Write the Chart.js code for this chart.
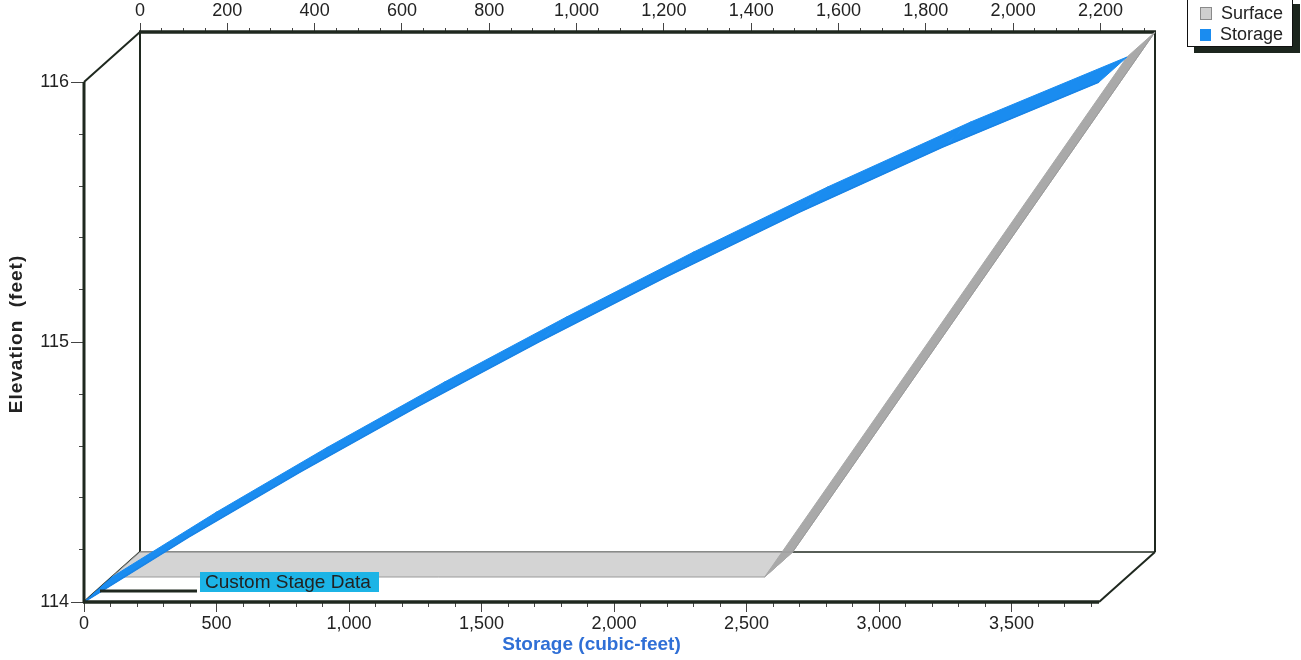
<!DOCTYPE html>
<html>
<head>
<meta charset="utf-8">
<title>Stage-Area-Storage</title>
<script src="https://cdn.jsdelivr.net/npm/chart.js@4.4.1/dist/chart.umd.min.js"></script>
<style>
  html, body { margin: 0; padding: 0; background: #fff; }
  #wrap { position: relative; width: 1301px; height: 660px; overflow: hidden; }
  #legend {
    position: absolute; left: 1187px; top: -2px; width: 104px; height: 47px;
    background: #fff; border: 1px solid #111; box-shadow: 7px 6px 0 #1c261e;
    font: 18px "Liberation Sans", Arial, sans-serif; color: #222;
  }
  #legend div { position: absolute; left: 12px; height: 20px; line-height: 20px; white-space: nowrap; }
  #legend span { display: inline-block; width: 11px; height: 12px; margin-right: 9px; vertical-align: -1px; }
</style>
</head>
<body>
<div id="wrap">
  <canvas id="chart" width="1301" height="660"></canvas>
  <div id="legend">
    <div style="top:4px"><span style="background:#cfcfcf;border:1px solid #8a8a8a;width:10px;height:11px"></span>Surface</div>
    <div style="top:25px"><span style="background:#1a8cf0"></span>Storage</div>
  </div>
</div>
<script>
// Stage-storage (front plane, bottom axis)
const elevation = [114.0, 114.25, 114.5, 114.75, 115.0, 115.25, 115.5, 115.75, 116.0];
const storage = [0, 395, 815, 1255, 1715, 2195, 2700, 3240, 3830];

// Stage-surface (back plane, top axis)
const surfaceElevation = [114.0, 114.0, 116.0];
const surfaceArea = [0, 1495, 2325];

// Tick labels
const storageTicks = [0, 500, 1000, 1500, 2000, 2500, 3000, 3500];
const surfaceTicks = [0, 200, 400, 600, 800, 1000, 1200, 1400, 1600, 1800, 2000, 2200];
const elevationTicks = [114, 115, 116];
const storageMinor = 100, surfaceMinor = 50, elevationMinor = 0.2;
const storageEnd = 3830, surfaceEnd = 2325;
const elevLo = 114, elevHi = 116;

// layout of the 3d box (pixels)
const AREA = { left: 84, top: 32, right: 1155, bottom: 602 };
const DEPTH = { x: 56, y: 50 };
const areaW = AREA.right - AREA.left, areaH = AREA.bottom - AREA.top;

const FONT = "'Liberation Sans', Arial, sans-serif";
const FRAME = '#1f281f';

function steps(from, to, step) {
  const out = [];
  for (let i = 0; from + i * step <= to + 1e-9; i++) out.push({ value: +(from + i * step).toFixed(6) });
  return out;
}
function has(list, v) {
  return list.some(t => Math.abs(t - v) < 1e-6);
}
function fmt(v) {
  return Math.round(v).toLocaleString('en-US');
}
function seg(ctx, pts, w) {
  ctx.lineWidth = w;
  ctx.beginPath();
  ctx.moveTo(pts[0][0], pts[0][1]);
  for (let i = 1; i < pts.length; i++) ctx.lineTo(pts[i][0], pts[i][1]);
  ctx.stroke();
}

const tickFont = { family: FONT, size: 18 };

// ribbons, box frame and labels
const box3d = {
  id: 'box3d',
  beforeDatasetsDraw(chart) {
    const { ctx, scales: { x, x2, y, yBack } } = chart;
    const fl = x.getPixelForValue(0), fr = x.getPixelForValue(storageEnd);
    const fb = y.getPixelForValue(elevLo), ft = y.getPixelForValue(elevHi);
    const bl = x2.getPixelForValue(0), br = x2.getPixelForValue(surfaceEnd);
    const bb = yBack.getPixelForValue(elevLo), bt = yBack.getPixelForValue(elevHi);
    ctx.save();
    ctx.strokeStyle = FRAME;
    seg(ctx, [[bl, bb], [br, bb]], 1.5);
    seg(ctx, [[bl, bt], [bl, bb]], 2);
    seg(ctx, [[br, bt], [br, bb]], 2);
    seg(ctx, [[fl, ft], [bl, bt]], 2);
    seg(ctx, [[fl, fb], [bl, bb]], 2);
    seg(ctx, [[fr, fb], [br, bb]], 2);
    seg(ctx, [[bl - 1, bt], [br + 1, bt]], 3.5);
    ctx.restore();
  },
  beforeDatasetDraw(chart, args) {
    const { ctx, scales: { x, x2, y, yBack } } = chart;
    const dx = x2.getPixelForValue(0) - x.getPixelForValue(0);
    const dy = yBack.getPixelForValue(elevLo) - y.getPixelForValue(elevLo);
    const back = args.meta.xAxisID === 'x2';
    const ox = back ? -dx / 2 : dx / 2, oy = back ? -dy / 2 : dy / 2;
    const pts = args.meta.data;
    const raw = chart.data.datasets[args.index].data;
    ctx.save();
    ctx.lineJoin = 'round';
    for (let i = 0; i < pts.length - 1; i++) {
      const a = pts[i], b = pts[i + 1];
      const flat = raw[i].y === raw[i + 1].y;
      let fill = '#1a8cf0', edge = '#1a8cf0';
      if (back) {
        fill = flat ? '#d4d4d4' : '#a9a9a9';
        edge = flat ? '#9a9a9a' : '#a9a9a9';
      }
      ctx.fillStyle = fill;
      ctx.strokeStyle = edge;
      ctx.lineWidth = 1;
      ctx.beginPath();
      ctx.moveTo(a.x, a.y);
      ctx.lineTo(b.x, b.y);
      ctx.lineTo(b.x + ox, b.y + oy);
      ctx.lineTo(a.x + ox, a.y + oy);
      ctx.closePath();
      ctx.fill();
      ctx.stroke();
    }
    ctx.restore();
  },
  afterDatasetsDraw(chart) {
    const { ctx, scales: { x, y } } = chart;
    const fl = x.getPixelForValue(0), fr = x.getPixelForValue(storageEnd);
    const fb = y.getPixelForValue(elevLo), ft = y.getPixelForValue(elevHi);
    ctx.save();
    ctx.strokeStyle = FRAME;
    seg(ctx, [[fl, ft], [fl, fb + 1]], 3);
    seg(ctx, [[fl - 1, fb], [fr, fb]], 3.5);

    // stage data label
    seg(ctx, [[100, 591], [197, 591]], 3);
    ctx.fillStyle = '#1cb4e6';
    ctx.fillRect(200, 572, 179, 20);
    ctx.fillStyle = '#222';
    ctx.font = '19px ' + FONT;
    ctx.textBaseline = 'middle';
    ctx.fillText('Custom Stage Data', 205, 582.5);

    // axis titles
    ctx.font = 'bold 19px ' + FONT;
    ctx.textAlign = 'center';
    ctx.fillStyle = '#2f6fd6';
    ctx.fillText('Storage (cubic-feet)', (fl + fr) / 2, 645);
    ctx.translate(17, 334);
    ctx.rotate(-Math.PI / 2);
    ctx.fillStyle = '#222';
    ctx.letterSpacing = '1px';
    ctx.fillText('Elevation  (feet)', 0, 0);
    ctx.restore();
  }
};

// minor ticks: short dash at the axis end of the tick
const minorDash = (list, tl, len, outerFirst) => (c) => {
  if (has(list, c.tick.value)) return [];
  return outerFirst ? [0, tl - len, len, 100] : [len, 100];
};

const ctx = document.getElementById('chart').getContext('2d');
const chart = new Chart(ctx, {
  type: 'line',
  data: {
    datasets: [
      {
        label: 'Storage',
        data: storage.map((s, i) => ({ x: s, y: elevation[i] })),
        xAxisID: 'x', yAxisID: 'y',
        borderColor: '#1a84e6', borderWidth: 1.5,
        pointRadius: 0, tension: 0, fill: false, order: 0
      },
      {
        label: 'Surface',
        data: surfaceArea.map((a, i) => ({ x: a, y: surfaceElevation[i] })),
        xAxisID: 'x2', yAxisID: 'yBack',
        borderColor: '#9a9a9a', borderWidth: 1,
        pointRadius: 0, tension: 0, fill: false, order: 1
      }
    ]
  },
  options: {
    responsive: false,
    animation: false,
    devicePixelRatio: 1,
    layout: { padding: { left: 0, top: 0, bottom: 0, right: 1301 - AREA.right } },
    plugins: { legend: { display: false }, tooltip: { enabled: false } },
    scales: {
      x: {
        type: 'linear', position: 'bottom',
        min: 0, max: storageEnd * areaW / (areaW - DEPTH.x),
        afterBuildTicks: s => { s.ticks = steps(0, storageEnd, storageMinor); },
        afterFit: s => { s.height = 660 - AREA.bottom; },
        border: { display: false },
        grid: { drawOnChartArea: false, tickLength: 10, tickColor: '#444', tickWidth: 1,
          tickBorderDash: minorDash(storageTicks, 10, 5, false) },
        ticks: { autoSkip: false, maxRotation: 0, padding: 1, color: '#222', font: tickFont,
          callback: v => has(storageTicks, v) ? fmt(v) : '' }
      },
      x2: {
        type: 'linear', position: 'top',
        min: -surfaceEnd * DEPTH.x / (areaW - DEPTH.x), max: surfaceEnd,
        afterBuildTicks: s => { s.ticks = steps(0, surfaceEnd, surfaceMinor); },
        afterFit: s => { s.height = AREA.top; },
        border: { display: false },
        grid: { drawOnChartArea: false, tickLength: 9, tickColor: '#444', tickWidth: 1,
          tickBorderDash: minorDash(surfaceTicks, 9, 4, true) },
        ticks: { autoSkip: false, maxRotation: 0, padding: 1, color: '#222', font: tickFont,
          callback: v => has(surfaceTicks, v) ? fmt(v) : '' }
      },
      y: {
        type: 'linear', position: 'left',
        min: elevLo, max: elevLo + (elevHi - elevLo) * areaH / (areaH - DEPTH.y),
        afterBuildTicks: s => { s.ticks = steps(elevLo, elevHi, elevationMinor); },
        afterFit: s => { s.width = AREA.left; },
        border: { display: false },
        grid: { drawOnChartArea: false, tickLength: 13, tickColor: '#444', tickWidth: 1,
          tickBorderDash: minorDash(elevationTicks, 13, 5, true) },
        ticks: { autoSkip: false, padding: 2, color: '#222', font: tickFont,
          callback: v => has(elevationTicks, v) ? String(Math.round(v)) : '' }
      },
      yBack: {
        type: 'linear', display: false,
        min: elevHi - (elevHi - elevLo) * areaH / (areaH - DEPTH.y), max: elevHi
      }
    }
  },
  plugins: [box3d]
});
</script>
</body>
</html>
